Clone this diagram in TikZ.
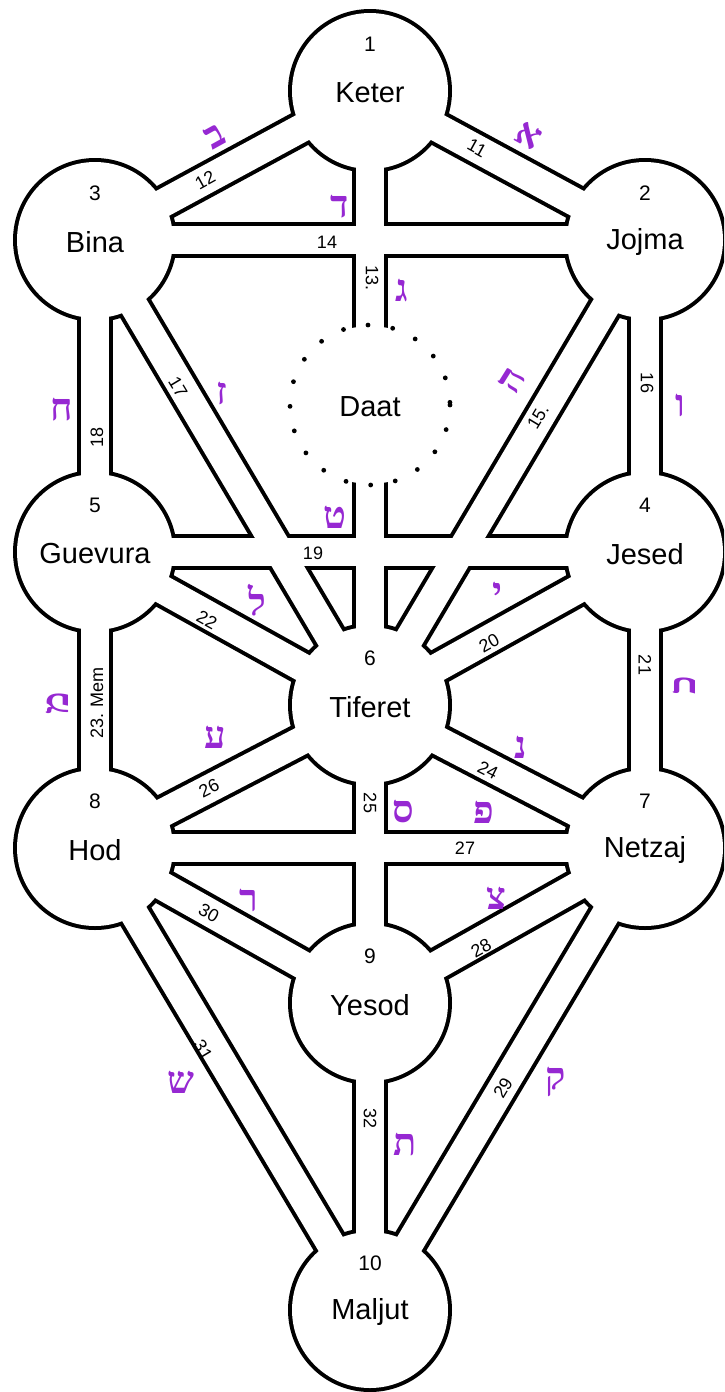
\documentclass[tikz,border=0pt]{standalone}
\usepackage{fontspec}
\setmainfont{Liberation Sans}
\newfontfamily\hebfont[Script=Hebrew]{Liberation Serif}
\TeXXeTstate=1
\definecolor{letterpurple}{RGB}{150,40,210}

\tikzset{
  channelrim/.style={line width=18pt, black},
  channelbody/.style={line width=14pt, white},
  sefname/.style={font=\fontsize{14.5}{16}\selectfont, inner sep=0pt},
  sefnum/.style={font=\fontsize{10.5}{12}\selectfont, inner sep=0pt},
  pathnum/.style={font=\fontsize{9}{10}\selectfont, inner sep=0pt},
  hebletter/.style={font=\hebfont\bfseries\fontsize{19}{20}\selectfont, text=letterpurple, inner sep=0pt},
}

\begin{document}
\begin{tikzpicture}[x=0.5pt,y=-0.5pt]
  \useasboundingbox (0,0) rectangle (724,1392);
  \clip (0,0) rectangle (724,1392);
  \fill[white] (0,0) rectangle (724,1392);

  \coordinate (keter) at (370,91);
  \coordinate (jojma) at (645,240);
  \coordinate (bina) at (95,240);
  \coordinate (daat) at (370,405);
  \coordinate (jesed) at (645,552);
  \coordinate (guevura) at (95,552);
  \coordinate (tiferet) at (370,705);
  \coordinate (netzaj) at (645,848);
  \coordinate (hod) at (95,848);
  \coordinate (yesod) at (370,1003);
  \coordinate (maljut) at (370,1310);

  % black rims of channels and spheres
  \foreach \a/\b in {keter/jojma,keter/bina,keter/tiferet,jojma/bina,jojma/tiferet,
      jojma/jesed,bina/tiferet,bina/guevura,jesed/guevura,jesed/tiferet,jesed/netzaj,
      guevura/tiferet,guevura/hod,tiferet/netzaj,tiferet/yesod,tiferet/hod,netzaj/hod,
      netzaj/yesod,netzaj/maljut,hod/yesod,hod/maljut,yesod/maljut}{
      \draw[channelrim] (\a) -- (\b);
    }
  \foreach \s in {keter,jojma,bina,jesed,guevura,tiferet,netzaj,hod,yesod,maljut}{
      \fill[black] (\s) circle (82);
    }

  % white insides
  \foreach \a/\b in {keter/jojma,keter/bina,keter/tiferet,jojma/bina,jojma/tiferet,
      jojma/jesed,bina/tiferet,bina/guevura,jesed/guevura,jesed/tiferet,jesed/netzaj,
      guevura/tiferet,guevura/hod,tiferet/netzaj,tiferet/yesod,tiferet/hod,netzaj/hod,
      netzaj/yesod,netzaj/maljut,hod/yesod,hod/maljut,yesod/maljut}{
      \draw[channelbody] (\a) -- (\b);
    }
  \foreach \s in {keter,jojma,bina,jesed,guevura,tiferet,netzaj,hod,yesod,maljut}{
      \fill[white] (\s) circle (78);
    }

  % Daat
  \fill[white] (daat) circle (79);
  \draw[line width=2.4pt, line cap=round, dash pattern=on 0pt off 12.5pt] (daat) circle (80);

  % names and numbers of the spheres
  \foreach \s/\n/\t in {keter/1/Keter,jojma/2/Jojma,bina/3/Bina,jesed/4/Jesed,
      guevura/5/Guevura,tiferet/6/Tiferet,netzaj/7/Netzaj,hod/8/Hod,yesod/9/Yesod,
      maljut/10/Maljut}{
      \node[sefname] (\s-name) at ([yshift=-1pt]\s) {\t};
      \node[sefnum] (\s-num) at ([yshift=23.5pt]\s) {\n};
    }
  \node[sefname] (daat-name) at ([yshift=-1pt]daat) {Daat};

  % path numbers
  \foreach \x/\y/\r/\t/\m in {205/180/29/12/p12, 477/148/-29/11/p11, 327/242/0/14/p14,
      372/278/-90/13./p13, 647/383/-90/16/p16, 178/387/-59/17/p17, 538/417/59/15./p15,
      97/437/90/18/p18, 313/553/0/19/p19, 489/643/29/20/p20, 645/665/-90/21/p21,
      207/620/-29/22/p22, 97/703/90/23. Mem/p23, 488/770/-27/24/p24, 370/803/-90/25/p25,
      209/788/27/26/p26, 465/848/0/27/p27, 209/913/-29/30/p30, 481/948/29/28/p28,
      203/1050/-59/31/p31, 370/1118/-90/32/p32, 503/1088/59/29/p29}{
      \node[pathnum, rotate=\r] (\m) at (\x,\y) {\t};
    }

  % hebrew letters
  \foreach \x/\y/\r/\l/\m in {215/136/29/ב/aBet, 528/136/-29/א/aAlef, 340/207/0/ד/aDalet,
      402/290/0/ג/aGimel, 512/380/58/ה/aHe, 680/405/0/ו/aVav, 222/393/0/ז/aZayin,
      62/410/0/ח/aHet, 335/517/0/ט/aTet, 497/593/0/י/aYod, 684/685/90/כ/aKaf,
      257/600/0/ל/aLamed, 57/703/90/מ/aMem, 521/747/0/נ/aNun, 403/812/0/ס/aSamekh,
      215/737/0/ע/aAyin, 484/812/0/פ/aPe, 496/898/0/צ/aTsadi, 249/900/0/ר/aResh,
      181/1082/0/ש/aShin, 405/1145/0/ת/aTav, 556/1082/0/ק/aQof}{
      \node[hebletter, rotate=\r] (\m) at (\x,\y) {\beginR \l\endR};
    }
\end{tikzpicture}
\end{document}
